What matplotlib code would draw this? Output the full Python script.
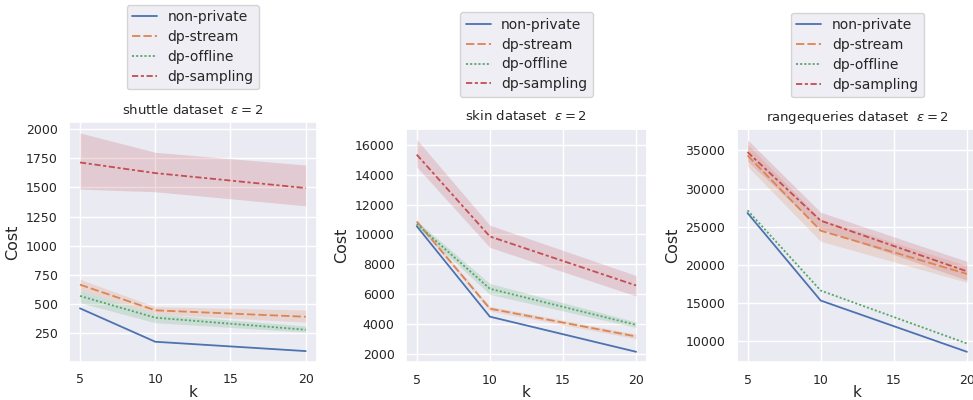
import numpy as np
import matplotlib
matplotlib.use("Agg")
import matplotlib.pyplot as plt
import seaborn as sns

sns.set_theme(style="darkgrid")

k = [5, 10, 20]
methods = ["non-private", "dp-stream", "dp-offline", "dp-sampling"]

# shuttle
shuttle_mean = {
    "non-private": [464, 178, 98],
    "dp-stream": [667, 447, 392],
    "dp-offline": [570, 384, 281],
    "dp-sampling": [1713, 1622, 1494],
}
shuttle_lo = {
    "dp-stream": [620, 415, 345],
    "dp-offline": [512, 341, 261],
    "dp-sampling": [1485, 1462, 1342],
}
shuttle_hi = {
    "dp-stream": [713, 478, 450],
    "dp-offline": [619, 415, 313],
    "dp-sampling": [1966, 1800, 1691],
}

# skin
skin_mean = {
    "non-private": [10550, 4500, 2150],
    "dp-stream": [10860, 5035, 3174],
    "dp-offline": [10705, 6364, 3949],
    "dp-sampling": [15335, 9863, 6585],
}
skin_lo = {
    "dp-stream": [10700, 4880, 3020],
    "dp-offline": [10500, 5987, 3772],
    "dp-sampling": [14515, 9132, 5876],
}
skin_hi = {
    "dp-stream": [11020, 5190, 3330],
    "dp-offline": [10900, 6718, 4149],
    "dp-sampling": [16353, 10616, 7250],
}

# rangequeries
rq_mean = {
    "non-private": [26800, 15330, 8610],
    "dp-stream": [34350, 24490, 18820],
    "dp-offline": [27150, 16640, 9700],
    "dp-sampling": [34790, 25800, 19160],
}
rq_lo = {
    "dp-stream": [32900, 23090, 17720],
    "dp-sampling": [33600, 24700, 18000],
}
rq_hi = {
    "dp-stream": [35800, 26000, 19900],
    "dp-sampling": [36400, 26900, 20470],
}

colors = {"non-private": "#4C72B0", "dp-stream": "#DD8452",
          "dp-offline": "#55A868", "dp-sampling": "#C44E52"}
dashes = {"non-private": "", "dp-stream": (4, 1.5),
          "dp-offline": (1, 1), "dp-sampling": (3, 1.25, 1.5, 1.25)}

panels = [
    ("shuttle", shuttle_mean, shuttle_lo, shuttle_hi, [0.0706, 0.095, 0.2552, 0.600]),
    ("skin", skin_mean, skin_lo, skin_hi, [0.417, 0.094, 0.248, 0.584]),
    ("rangequeries", rq_mean, rq_lo, rq_hi, [0.757, 0.094, 0.248, 0.583]),
]

fig = plt.figure(figsize=(9.73, 4.0), dpi=100)
for name, mean, lo, hi, rect in panels:
    ax = fig.add_axes(rect)
    for m in methods:
        ln, = ax.plot(k, mean[m], color=colors[m], lw=1.3, label=m)
        if dashes[m]:
            ln.set_dashes([d * 1.15 for d in dashes[m]])
        if m in lo:
            ax.fill_between(k, lo[m], hi[m], color=colors[m], alpha=0.2, lw=0)
    ax.set_xticks([5, 10, 15, 20])
    ax.set_xlabel("k", fontsize=11, labelpad=-1)
    ax.set_ylabel("Cost", fontsize=11.5, labelpad=4)
    ax.set_title(name + r" dataset  $\varepsilon = 2$", fontsize=9.5, pad=6)
    ax.tick_params(axis="both", labelsize=9, length=0, pad=8)
    ax.legend(loc="lower center", bbox_to_anchor=(0.5, 1.107), fontsize=10,
              labelspacing=0.42, handlelength=1.8, handletextpad=0.75)

fig.savefig("out.png", dpi=100)
